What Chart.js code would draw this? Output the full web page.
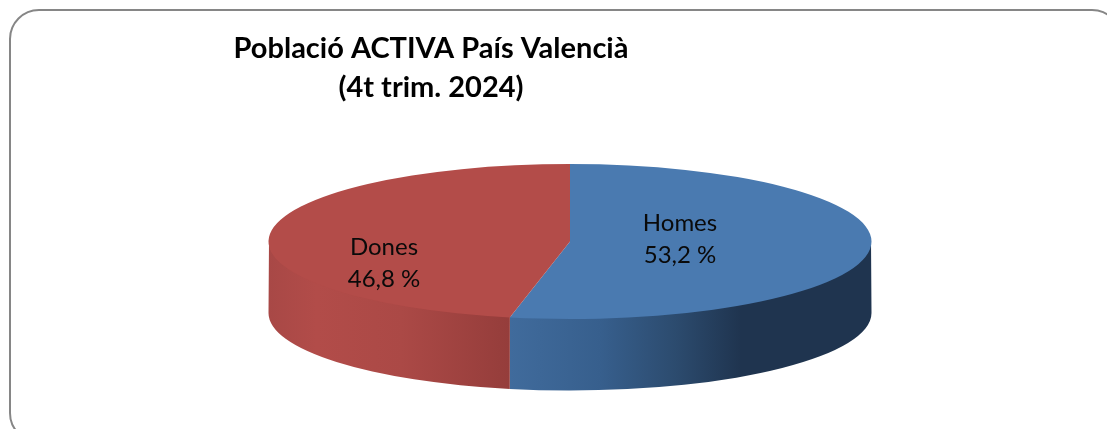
<!DOCTYPE html>
<html>
<head>
<meta charset="utf-8">
<script src="https://cdn.jsdelivr.net/npm/chart.js@4"></script>
<style>
html,body{margin:0;padding:0;background:#fff;overflow:hidden;width:1107px;height:429px}
#frame{position:absolute;left:9px;top:9px;width:1113px;height:434px;border:2px solid #868686;border-radius:30px;box-sizing:border-box}
canvas{position:absolute;left:0;top:0}
</style>
</head>
<body>
<div id="frame"></div>
<canvas id="c" width="1107" height="429"></canvas>
<script>
const categories = ["Homes", "Dones"];
const values = [53.2, 46.8];
const titleLines = ["Població ACTIVA País Valencià", "(4t trim. 2024)"];
const sliceColors = ["#4A7AB0", "#B34C49"];
const wallStops = [
  [[0, "#406B9C"], [0.25, "#375F8D"], [0.46, "#2C4B6E"], [0.64, "#1F344F"], [1, "#1F344F"]],
  [[0, "#A84846"], [0.2, "#B24C49"], [0.55, "#AB4946"], [1, "#953D3B"]]
];
const labelOffsets = [[110, -2], [-186, 22]];

const RX = 301.5, RY = 77.5, DEPTH = 71.5, CX = 570, CY = 241.5;
const SQUASH = RY / RX;

const pie3d = {
  id: "pie3d",
  afterLayout(chart) {
    const t = chart.titleBlock;
    t.left = 131; t.right = 731; t.top = 29; t.bottom = 100; t.width = 600;
    const a = chart.chartArea;
    a.left = CX - 300; a.right = CX + 300; a.top = CY - 100; a.bottom = CY + 100;
    a.width = 600; a.height = 200;
  },
  beforeDatasetsDraw(chart) {
    const ctx = chart.ctx;
    chart.getDatasetMeta(0).data.forEach((arc, i) => {
      const from = Math.max(arc.startAngle, 0);
      const to = Math.min(arc.endAngle, Math.PI);
      if (to <= from) return;
      const cx = arc.x, cy = arc.y, r = arc.outerRadius, ry = r * SQUASH;
      const xs = [from, to].map(a => cx + r * Math.cos(a));
      const g = ctx.createLinearGradient(Math.min(...xs), 0, Math.max(...xs), 0);
      wallStops[i].forEach(s => g.addColorStop(s[0], s[1]));
      ctx.save();
      ctx.beginPath();
      // the upper edge sits just under the top face so no light seam shows
      ctx.ellipse(cx, cy - 1, r - 0.5, ry, 0, from, to, false);
      ctx.ellipse(cx, cy + DEPTH, r, ry, 0, to, from, true);
      ctx.closePath();
      ctx.fillStyle = g;
      ctx.fill();
      ctx.restore();
    });
    ctx.save();
    const c = chart.getDatasetMeta(0).data[0];
    ctx.translate(c.x, c.y);
    ctx.scale(1, SQUASH);
    ctx.translate(-c.x, -c.y);
  },
  afterDatasetsDraw(chart) {
    const ctx = chart.ctx;
    ctx.restore();
    ctx.save();
    ctx.fillStyle = "#0a0a0a";
    ctx.font = "400 24px Lato";
    ctx.textAlign = "center";
    ctx.textBaseline = "middle";
    chart.getDatasetMeta(0).data.forEach((arc, i) => {
      const x = arc.x + labelOffsets[i][0], y = arc.y + labelOffsets[i][1];
      ctx.fillText(categories[i], x, y - 16);
      ctx.fillText(String(values[i]).replace(".", ",") + " %", x, y + 16);
    });
    ctx.restore();
  }
};

new Chart(document.getElementById("c"), {
  type: "pie",
  data: {
    labels: categories,
    datasets: [{ data: values, backgroundColor: sliceColors, borderWidth: 0, clip: false, hoverOffset: 0 }]
  },
  options: {
    responsive: false,
    animation: false,
    radius: RX,
    rotation: 0,
    layout: { padding: 0 },
    events: [],
    plugins: {
      legend: { display: false },
      tooltip: { enabled: false },
      title: {
        display: true,
        text: titleLines,
        color: "#000",
        padding: 0,
        font: { family: "Lato", weight: "bold", size: 29, lineHeight: 39 / 29 }
      }
    }
  },
  plugins: [pie3d]
});
</script>
</body>
</html>
